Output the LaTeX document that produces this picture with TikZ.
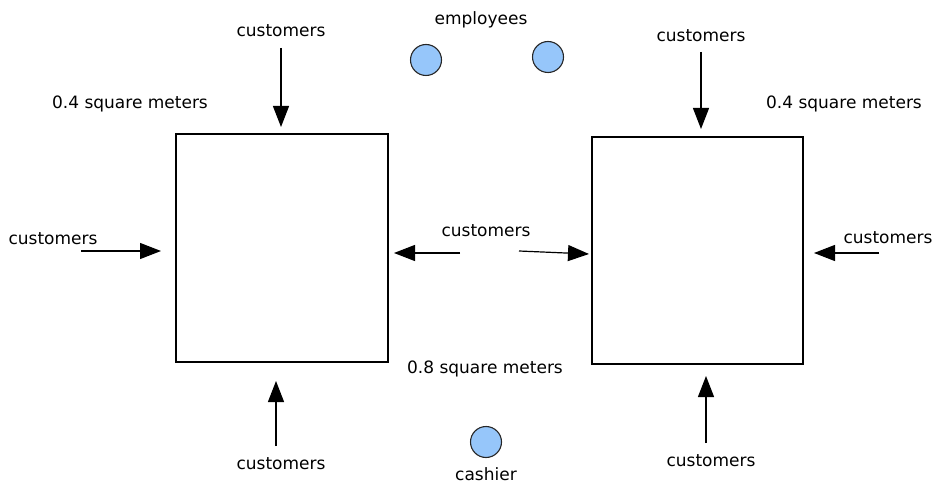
\documentclass[tikz,border=0pt]{standalone}
\usepackage{fontspec}
\setmainfont{DejaVu Sans}
\usetikzlibrary{arrows.meta}
\definecolor{personblue}{RGB}{150,198,250}
\tikzset{
  counter/.style={draw=black, line width=1.1pt, inner sep=0pt},
  person/.style={circle, draw=black!85, line width=1.1pt, fill=personblue, minimum size=31pt, inner sep=0pt},
  lbl/.style={font=\fontsize{17}{20}\selectfont, inner sep=0pt, text=black},
  flow/.style={line width=1.2pt, -{Triangle[length=21pt,width=16pt]}},
}
\begin{document}
\begin{tikzpicture}[x=1pt,y=-1pt]
  \useasboundingbox (0,0) rectangle (934,486);
  % the two counters
  \node[counter, minimum width=212pt, minimum height=228pt] (lbox) at (282,248) {};
  \node[counter, minimum width=211pt, minimum height=227pt] (rbox) at (697.5,250.5) {};

  % staff
  \node[lbl] (emp) at (481,20) {employees};
  \node[person] (e1) at (426,60) {};
  \node[person] (e2) at (548,57) {};
  \node[person] (cash) at (486,442) {};
  \node[lbl] (cashl) at (486,474) {cashier};

  % areas
  \node[lbl] (area1) at (130,104) {0.4 square meters};
  \node[lbl] (area2) at (844,104) {0.4 square meters};
  \node[lbl] (area3) at (485,369) {0.8 square meters};

  % customer labels
  \node[lbl] (ctl) at (281,31) {customers};
  \node[lbl] (ctr) at (701,36) {customers};
  \node[lbl] (cl)  at (53,239) {customers};
  \node[lbl] (cm)  at (486,231) {customers};
  \node[lbl] (cr)  at (888,238) {customers};
  \node[lbl] (cbl) at (281,464) {customers};
  \node[lbl] (cbr) at (711,461) {customers};

  % arrow end points
  \coordinate (tl0) at (281,48);   \coordinate (tl1) at (281,127);
  \coordinate (tr0) at (701,52);   \coordinate (tr1) at (701,129);
  \coordinate (l0)  at (81,251);   \coordinate (l1)  at (161,251);
  \coordinate (ml0) at (460,253);  \coordinate (ml1) at (394,253);
  \coordinate (mr0) at (519,251);  \coordinate (mr1) at (589,254);
  \coordinate (r0)  at (879,253);  \coordinate (r1)  at (814,253);
  \coordinate (bl0) at (276,446);  \coordinate (bl1) at (276,381);
  \coordinate (br0) at (706,443);  \coordinate (br1) at (706,376);

  % customer flows
  \draw[flow] (tl0) -- (tl1);
  \draw[flow] (tr0) -- (tr1);
  \draw[flow] (l0) -- (l1);
  \draw[flow] (ml0) -- (ml1);
  \draw[flow] (mr0) -- (mr1);
  \draw[flow] (r0) -- (r1);
  \draw[flow] (bl0) -- (bl1);
  \draw[flow] (br0) -- (br1);
\end{tikzpicture}
\end{document}
